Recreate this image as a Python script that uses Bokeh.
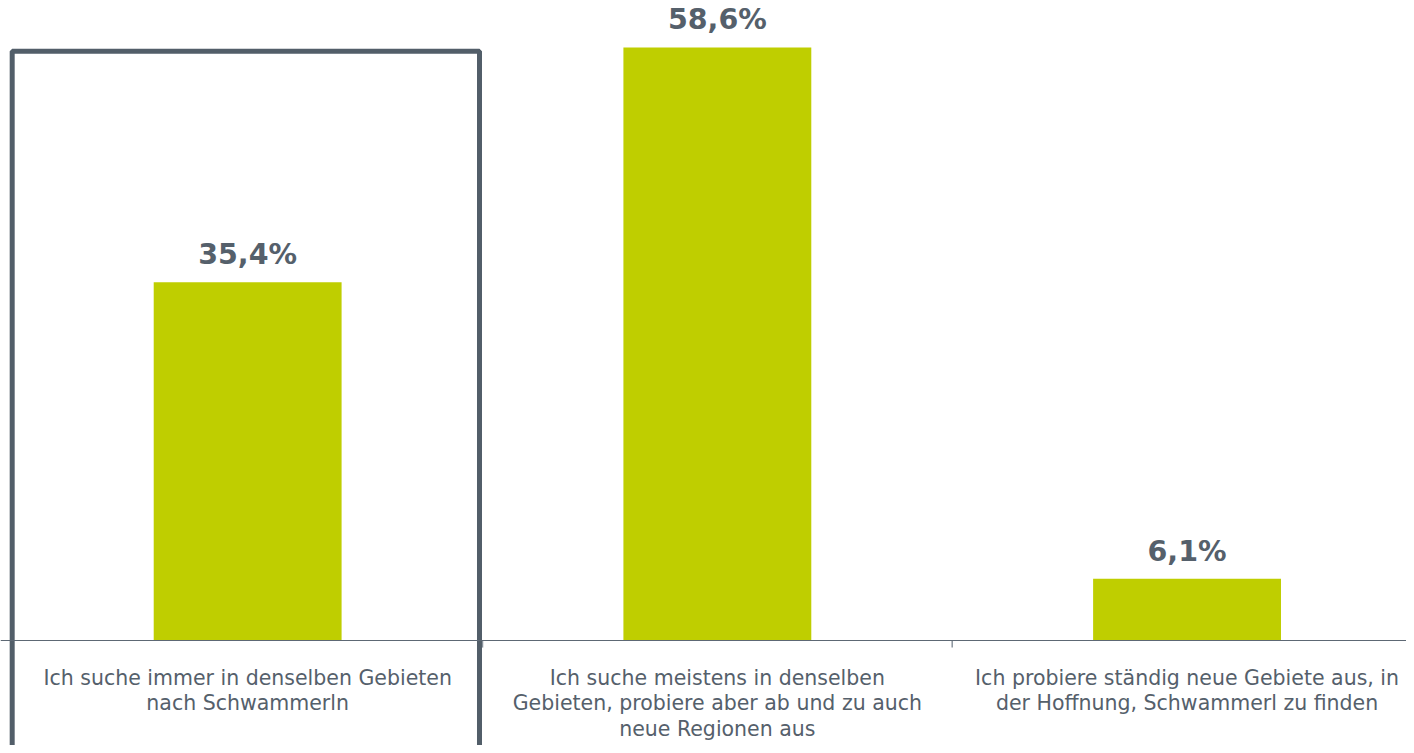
from bokeh.plotting import figure
from bokeh.models import Range1d, ColumnDataSource, Span
from bokeh.core.properties import value
from bokeh.embed import file_html
from bokeh.resources import INLINE

categories = [
    "Ich suche immer in denselben Gebieten\nnach Schwammerln",
    "Ich suche meistens in denselben\nGebieten, probiere aber ab und zu auch\nneue Regionen aus",
    "Ich probiere ständig neue Gebiete aus, in\nder Hoffnung, Schwammerl zu finden",
]
values = [35.4, 58.6, 6.1]
value_labels = ["35,4%", "58,6%", "6,1%"]

positions = [i + 0.5 for i in range(len(categories))]
boundaries = [float(i) for i in range(1, len(categories))]

GREEN = "#BFCE00"
DARK = "#55606B"
FONT = "DejaVu Sans"

W, H = 1406, 745
SLOT = 469.7
PX_PER_UNIT = 10.12
BASE_Y = 640
x0 = -12.3 / SLOT
p = figure(width=W, height=H, output_backend="svg", toolbar_location=None,
           x_range=Range1d(x0, x0 + W / SLOT),
           y_range=Range1d(-(H - BASE_Y) / PX_PER_UNIT, BASE_Y / PX_PER_UNIT),
           min_border=0)
p.axis.visible = False
p.grid.visible = False
p.outline_line_color = None
p.background_fill_color = "white"
p.border_fill_color = "white"

src = ColumnDataSource(dict(x=positions, top=values, lab=value_labels, cat=categories,
                            zero=[0] * len(values)))

p.vbar(x="x", top="top", bottom=0, width=0.4, source=src, fill_color=GREEN,
       line_color=None)

# baseline (axis line)
p.add_layout(Span(location=0, dimension="width", line_color="#5D6874", line_width=1.2))
# category separator ticks
p.segment(x0=boundaries, y0=[0] * len(boundaries), x1=boundaries,
          y1=[-0.7] * len(boundaries), line_color="#8A939C", line_width=1.5)

# value labels
p.text(x="x", y="top", text="lab", source=src, text_align="center",
       text_baseline="bottom", y_offset=-11, text_font=value(FONT),
       text_font_style="bold", text_font_size="28.5px", text_color=DARK)

# category labels
p.text(x="x", y="zero", text="cat", source=src, text_align="center",
       text_baseline="top", y_offset=25, text_font=value(FONT),
       text_font_size="20.5px", text_color=DARK, text_line_height=1.07)

# highlight box around first category
p.quad(left=[-0.0013], right=[0.9936], top=[58.22], bottom=[-30],
       fill_color=None, line_color="#525E69", line_width=5)

open("out.html", "w").write(file_html(p, INLINE))
